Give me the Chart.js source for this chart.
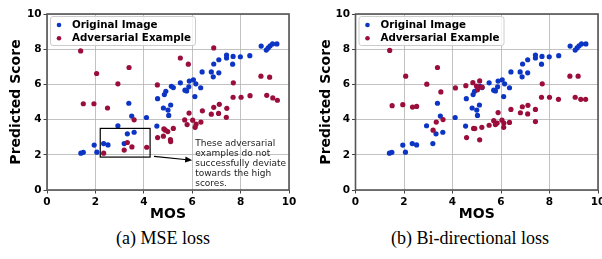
<!DOCTYPE html>
<html>
<head>
<meta charset="utf-8">
<script src="https://cdn.jsdelivr.net/npm/chart.js@4.4.1/dist/chart.umd.min.js"></script>
<style>
  body { margin: 0; background: #fff; width: 602px; height: 259px; position: relative; overflow: hidden; }
  .panel { position: absolute; top: 0; width: 301px; height: 225px; }
  .caption { position: absolute; top: 228px; font-family: "Liberation Serif", serif; font-size: 18px; color: #000; text-align: center; white-space: nowrap; }
</style>
</head>
<body>
<div class="panel" style="left:0"><canvas id="chartA" width="301" height="225"></canvas></div>
<div class="panel" style="left:301px"><canvas id="chartB" width="301" height="225"></canvas></div>
<div class="caption" style="left:68px;width:190px">(a) MSE loss</div>
<div class="caption" style="left:370px;width:200px">(b) Bi-directional loss</div>
<script>
// 원본 이미지 (both panels)
const mosOriginal = [1.4, 1.5, 1.95, 2.06, 2.34, 2.52, 3.19, 3.32, 3.6, 2.93, 3.38, 3.5, 4.11, 4.54, 5.03, 5.0, 4.81, 5.11, 4.57, 4.85,
  4.91, 5.14, 5.22, 5.51, 5.7, 5.77, 5.86, 5.88, 6.05, 6.15, 6.35, 6.11, 6.41, 6.79, 6.87, 7.1, 6.89, 7.1, 7.42, 7.42,
  7.69, 7.67, 7.99, 8.38, 8.85, 9.06, 9.14, 9.22, 9.32, 9.5];
const scoreOriginal = [2.09, 2.14, 2.55, 2.15, 2.64, 2.56, 2.64, 3.19, 3.28, 3.65, 4.93, 4.2, 4.12, 3.63, 4.24, 4.54, 4.66, 4.83, 5.19, 5.42,
  5.61, 5.89, 5.82, 6.09, 5.67, 5.63, 5.86, 6.19, 6.26, 6.03, 5.81, 5.31, 6.71, 6.71, 6.43, 6.66, 7.16, 7.4, 7.67, 7.5,
  7.59, 7.15, 7.57, 7.63, 8.18, 7.95, 8.07, 8.19, 8.3, 8.3];

// (a) MSE loss - adversarial
const mosMse = [1.39, 2.05, 3.39, 2.93, 1.5, 1.94, 2.5, 3.6, 2.34, 3.19, 3.32, 3.51, 4.12, 6.89, 5.51, 5.84, 4.56, 7.7, 8.84, 9.2,
  7.69, 8.02, 8.39, 9.08, 9.33, 9.52, 6.89, 7.12, 7.43, 6.42, 5.87, 6.79, 7.09, 7.41, 5.69, 6.02, 5.79, 6.16, 6.36, 6.12,
  4.83, 4.89, 4.99, 5.22, 4.57, 4.81, 5.1, 5.11];
const scoreMse = [7.9, 6.62, 6.96, 6.03, 4.9, 4.9, 4.66, 3.99, 2.09, 2.27, 2.7, 2.45, 2.43, 8.07, 7.5, 7.15, 5.97, 6.09, 6.47, 6.41,
  5.27, 5.27, 5.36, 5.38, 5.23, 5.1, 4.7, 4.87, 4.64, 4.5, 4.37, 4.31, 4.35, 4.13, 3.98, 3.97, 3.72, 3.74, 3.86, 3.56,
  3.47, 3.4, 3.32, 3.5, 2.98, 3.06, 2.87, 2.75];

// (b) Bi-directional loss - adversarial
const mosBi = [1.41, 2.07, 3.38, 2.94, 3.52, 1.51, 1.95, 2.35, 2.52, 3.33, 3.61, 3.2, 4.12, 4.55, 4.84, 5.12, 4.99, 5.03, 5.22, 7.7,
  8.84, 9.18, 7.67, 8.0, 8.37, 9.06, 9.29, 9.49, 6.88, 7.11, 7.42, 6.41, 5.88, 6.8, 7.1, 7.42, 5.7, 5.77, 5.84, 6.04,
  6.12, 6.35, 6.11, 5.51, 5.21, 4.87, 4.92, 4.58, 5.12];
const scoreBi = [7.93, 6.47, 6.96, 6.01, 5.57, 4.79, 4.85, 4.71, 4.75, 3.86, 4.0, 3.4, 5.8, 5.93, 6.1, 6.2, 5.91, 5.69, 5.84, 6.03,
  6.47, 6.47, 5.27, 5.27, 5.15, 5.27, 5.15, 5.15, 4.73, 4.81, 4.58, 4.58, 4.4, 4.39, 4.32, 3.89, 3.94, 3.72, 3.8, 3.97,
  3.8, 3.84, 3.56, 3.68, 3.56, 3.5, 3.49, 2.98, 2.85];

const axisTicks = [0, 2, 4, 6, 8, 10];
const legendLabels = ["Original Image", "Adversarial Example"];
const noteLines = ["These adversarial", "examples do not", "successfully deviate", "towards the high", "scores."];
const noteBox = { x0: 2.2, x1: 4.26, y0: 1.87, y1: 3.5 };   // data coords
const noteArrow = { x0: 4.42, y0: 1.91, x1: 6.0, y1: 1.69 };

const BLUE = "#0d35c4";
const RED = "#9b0e3c";
const FONT = "'DejaVu Sans', sans-serif";

function toPoints(xs, ys) {
  return xs.map((x, i) => ({ x: x, y: ys[i] }));
}

// frame + legend (+ optional note) drawn on top
const framePlugin = {
  id: "frame",
  afterDatasetsDraw(chart, args, opts) {
    const { ctx, chartArea: a, scales: { x, y } } = chart;
    ctx.save();
    if (opts.note) {
      ctx.strokeStyle = "#000";
      ctx.lineWidth = 1.2;
      const bx = x.getPixelForValue(noteBox.x0), by = y.getPixelForValue(noteBox.y1);
      ctx.strokeRect(bx, by, x.getPixelForValue(noteBox.x1) - bx, y.getPixelForValue(noteBox.y0) - by);
      const ax0 = x.getPixelForValue(noteArrow.x0), ay0 = y.getPixelForValue(noteArrow.y0);
      const ax1 = x.getPixelForValue(noteArrow.x1), ay1 = y.getPixelForValue(noteArrow.y1);
      ctx.beginPath(); ctx.moveTo(ax0, ay0); ctx.lineTo(ax1 - 5, ay1 - 0.5); ctx.stroke();
      const ang = Math.atan2(ay1 - ay0, ax1 - ax0);
      ctx.fillStyle = "#000";
      ctx.beginPath();
      ctx.moveTo(ax1, ay1);
      ctx.lineTo(ax1 - 7 * Math.cos(ang) + 3 * Math.sin(ang), ay1 - 7 * Math.sin(ang) - 3 * Math.cos(ang));
      ctx.lineTo(ax1 - 7 * Math.cos(ang) - 3 * Math.sin(ang), ay1 - 7 * Math.sin(ang) + 3 * Math.cos(ang));
      ctx.closePath(); ctx.fill();
      ctx.fillStyle = "#222";
      ctx.font = "9px " + FONT;
      ctx.textBaseline = "middle";
      ctx.textAlign = "left";
      noteLines.forEach((t, i) => ctx.fillText(t, ax1 + 3, ay1 - 16.5 + i * 10));
    }
    // legend box
    const lx = a.left + 3.5, ly = a.top + 2.5;
    ctx.fillStyle = "rgba(255,255,255,0.8)";
    ctx.strokeStyle = "#cccccc";
    ctx.lineWidth = 1;
    ctx.beginPath();
    ctx.roundRect(lx, ly, 145, 29, 2.5);
    ctx.fill(); ctx.stroke();
    ctx.font = "bold 10.3px " + FONT;
    ctx.textBaseline = "middle";
    ctx.textAlign = "left";
    [BLUE, RED].forEach((c, i) => {
      const yy = a.top + 11 + i * 13.3;
      ctx.fillStyle = c;
      ctx.beginPath(); ctx.arc(a.left + 12, yy, 2.3, 0, Math.PI * 2); ctx.fill();
      ctx.fillStyle = "#000";
      ctx.fillText(legendLabels[i], a.left + 25, yy);
    });
    // spines
    ctx.strokeStyle = "#555";
    ctx.lineWidth = 1.6;
    ctx.strokeRect(a.left, a.top, a.right - a.left, a.bottom - a.top);
    ctx.restore();
  }
};

function makeChart(id, advMos, advScore, leftW, rightPad, titlePad, note) {
  const axis = (title, pad) => ({
    type: "linear",
    min: 0, max: 10,
    afterBuildTicks: s => { s.ticks = axisTicks.map(v => ({ value: v })); },
    grid: {
      color: "#b3b3b3", lineWidth: 0.8, borderDash: [2, 2],
      tickColor: "#444", tickLength: 3.5, tickWidth: 1, tickBorderDash: []
    },
    border: { display: false },
    ticks: { color: "#000", padding: 2, font: { family: FONT, size: 10.5, weight: "bold" } },
    title: { display: true, text: title, color: "#000", padding: pad, font: { family: FONT, size: 14, weight: "bold" } }
  });
  const xAxis = axis("MOS", { top: 0, bottom: 2 });
  xAxis.afterFit = s => { s.height = 35; s.paddingLeft = 0; s.paddingRight = 0; };
  const yAxis = axis("Predicted Score", { top: titlePad, bottom: 0 });
  yAxis.afterFit = s => { s.width = leftW; s.paddingTop = 0; s.paddingBottom = 0; };

  return new Chart(document.getElementById(id), {
    type: "scatter",
    data: {
      datasets: [
        { label: legendLabels[1], data: toPoints(advMos, advScore), backgroundColor: RED, borderWidth: 0, pointRadius: 2.6, order: 0 },
        { label: legendLabels[0], data: toPoints(mosOriginal, scoreOriginal), backgroundColor: BLUE, borderWidth: 0, pointRadius: 2.6, order: 1 }
      ]
    },
    options: {
      responsive: false,
      animation: false,
      layout: { padding: { left: 0, top: 14, right: rightPad, bottom: 0 } },
      plugins: { legend: { display: false }, tooltip: { enabled: false }, frame: { note: note } },
      scales: { x: xAxis, y: yAxis }
    },
    plugins: [framePlugin]
  });
}

makeChart("chartA", mosMse, scoreMse, 47, 12, 8, true);
makeChart("chartB", mosBi, scoreBi, 54.5, 3, 16.5, false);
</script>
</body>
</html>
